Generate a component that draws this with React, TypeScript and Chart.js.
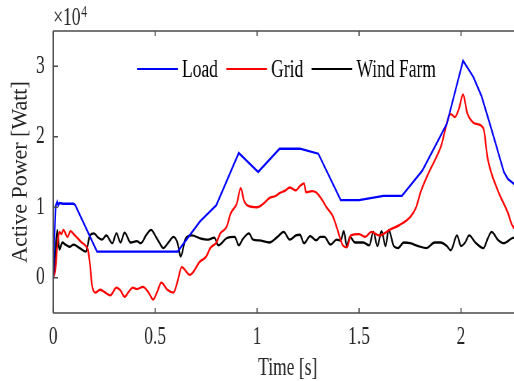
import React, { useEffect, useRef } from "react";
import { Chart, registerables } from "chart.js";

Chart.register(...registerables);

// ---------- data (time in s, power in W) ----------
const seriesLabels = ["Load", "Grid", "Wind Farm"];
const seriesColors = ["#0000ff", "#ff0000", "#000000"];
const xTitle = "Time [s]";
const yTitle = "Active Power [Watt]";

const loadT = [0, 0.005, 0.012, 0.02, 0.025, 0.03, 0.05, 0.1, 0.108, 0.215, 0.61, 0.72, 0.8, 0.91, 1.005, 1.11, 1.21, 1.3, 1.41, 1.5, 1.62, 1.71, 1.81, 1.93, 2.01, 2.06, 2.1, 2.15, 2.18, 2.21, 2.23, 2.26, 2.3];
const loadP = [0, 5000, 10200, 10800, 10300, 10600, 10500, 10500, 10300, 3700, 3700, 8000, 10300, 17700, 15000, 18300, 18300, 17600, 11000, 11000, 11600, 11600, 15200, 21800, 30800, 28500, 25800, 21000, 18000, 15000, 14000, 13300, 12800];

const gridT = [0, 0.01, 0.02, 0.03, 0.04, 0.05, 0.07, 0.085, 0.1, 0.12, 0.14, 0.16, 0.17, 0.18, 0.19, 0.206, 0.23, 0.25, 0.28, 0.31, 0.33, 0.35, 0.37, 0.39, 0.41, 0.44, 0.47, 0.49, 0.51, 0.53, 0.56, 0.59, 0.61, 0.63, 0.67, 0.72, 0.75, 0.77, 0.8, 0.82, 0.85, 0.87, 0.9, 0.92, 0.935, 0.95, 1.0, 1.03, 1.06, 1.09, 1.11, 1.14, 1.16, 1.19, 1.21, 1.23, 1.24, 1.27, 1.29, 1.32, 1.34, 1.37, 1.39, 1.42, 1.44, 1.46, 1.5, 1.53, 1.56, 1.6, 1.65, 1.7, 1.75, 1.78, 1.8, 1.84, 1.9, 1.95, 1.97, 1.99, 2.01, 2.03, 2.06, 2.08, 2.11, 2.13, 2.18, 2.23, 2.25, 2.3];
const gridP = [0, 1000, 4500, 6500, 6200, 6800, 5800, 6600, 6200, 5600, 5000, 4500, 4000, 2000, -1000, -2100, -1700, -2000, -2500, -1400, -1800, -2700, -2000, -1400, -1600, -1300, -2200, -3100, -2000, -700, -1700, -2100, -500, 1500, 400, 2300, 3000, 4200, 5000, 6300, 7200, 9100, 10500, 12700, 11000, 10300, 10000, 10500, 11300, 11600, 12000, 12400, 12800, 12400, 13000, 13400, 12100, 12300, 12100, 11000, 10000, 8800, 7200, 4600, 4300, 6000, 6200, 5800, 6500, 6000, 6800, 7500, 8600, 10000, 12000, 14800, 18500, 23200, 22800, 24000, 26000, 23400, 22000, 21800, 21200, 17000, 12400, 9200, 7500, 6000];

const windT = [0, 0.01, 0.02, 0.03, 0.045, 0.06, 0.08, 0.1, 0.13, 0.16, 0.18, 0.2, 0.22, 0.24, 0.26, 0.29, 0.31, 0.33, 0.35, 0.38, 0.41, 0.43, 0.455, 0.48, 0.5, 0.52, 0.54, 0.565, 0.59, 0.61, 0.625, 0.65, 0.68, 0.72, 0.76, 0.79, 0.81, 0.85, 0.89, 0.91, 0.93, 0.96, 0.98, 1.01, 1.06, 1.1, 1.13, 1.16, 1.19, 1.21, 1.23, 1.26, 1.29, 1.31, 1.33, 1.36, 1.39, 1.41, 1.425, 1.44, 1.455, 1.48, 1.52, 1.55, 1.57, 1.59, 1.61, 1.63, 1.645, 1.67, 1.69, 1.72, 1.75, 1.79, 1.83, 1.87, 1.9, 1.93, 1.95, 1.98, 2.0, 2.02, 2.04, 2.07, 2.11, 2.13, 2.15, 2.18, 2.21, 2.25, 2.3];
const windP = [0, 3000, 6800, 4000, 5000, 4700, 4400, 4700, 4200, 3700, 6000, 6300, 5700, 5400, 6000, 4900, 6300, 5000, 6400, 5000, 5200, 4900, 6000, 6800, 6000, 5000, 4200, 5000, 5800, 4900, 3000, 5600, 6000, 5600, 5400, 5700, 4600, 5600, 5800, 4600, 5500, 6300, 5400, 5300, 5000, 5800, 6500, 5400, 6000, 6100, 4900, 5900, 5300, 5800, 5800, 4700, 5400, 5300, 6600, 4500, 5800, 5000, 5000, 4600, 6500, 4500, 6600, 4500, 6800, 4500, 4200, 5000, 4900, 4500, 4200, 5000, 5000, 4500, 3900, 6000, 4500, 5000, 6000, 5000, 4200, 5500, 6500, 5400, 4900, 5600, 6000];

const xTicks = [0, 0.5, 1, 1.5, 2];
const yTicks = [0, 10000, 20000, 30000];
const X_MIN = 0;
const X_MAX = 2.3;
const Y_MIN = -5000;
const Y_MAX = 35000;

// ---------- layout ----------
const SX = 0.7; // horizontal compression of the reference figure
const W = 760;
const H = 381;
const FONT = '"Liberation Serif", "Times New Roman", serif';
const AXIS = "#4a4a4a";
const TEXT = "#262626";

const pts = (t: number[], p: number[]) => t.map((v, i) => ({ x: v, y: p[i] }));

const framePlugin = {
  id: "frame",
  afterDatasetsDraw(chart: any) {
    const { ctx, chartArea: a, scales } = chart;
    const xs = scales.x;
    const ys = scales.y;
    ctx.save();
    ctx.strokeStyle = AXIS;
    ctx.lineWidth = 1.3;
    ctx.beginPath();
    ctx.moveTo(a.left, a.top);
    ctx.lineTo(a.right, a.top);
    ctx.moveTo(a.left, a.bottom);
    ctx.lineTo(a.right, a.bottom);
    ctx.stroke();
    ctx.lineWidth = 1.9;
    ctx.beginPath();
    ctx.moveTo(a.left, a.top);
    ctx.lineTo(a.left, a.bottom);
    ctx.moveTo(a.right, a.top);
    ctx.lineTo(a.right, a.bottom);
    ctx.stroke();
    ctx.lineWidth = 1.7;
    ctx.beginPath();
    for (const v of xTicks) {
      const px = xs.getPixelForValue(v);
      ctx.moveTo(px, a.bottom);
      ctx.lineTo(px, a.bottom - 5);
      ctx.moveTo(px, a.top);
      ctx.lineTo(px, a.top + 5);
    }
    ctx.stroke();
    ctx.lineWidth = 1.3;
    ctx.beginPath();
    for (const v of yTicks) {
      const py = ys.getPixelForValue(v);
      ctx.moveTo(a.left, py);
      ctx.lineTo(a.left + 7, py);
      ctx.moveTo(a.right, py);
      ctx.lineTo(a.right - 7, py);
    }
    ctx.stroke();

    // exponent label
    ctx.fillStyle = TEXT;
    ctx.textBaseline = "alphabetic";
    ctx.textAlign = "left";
    ctx.font = `25px ${FONT}`;
    ctx.fillText("\u00d710", a.left, 25);
    const w10 = ctx.measureText("\u00d710").width;
    ctx.font = `17px ${FONT}`;
    ctx.fillText("4", a.left + w10 + 1, 17);

    // y axis title (rotated, uncompressed thickness)
    ctx.save();
    ctx.translate(30, (a.top + a.bottom) / 2);
    ctx.rotate(-Math.PI / 2);
    ctx.scale(1, 1 / SX);
    ctx.font = `22px ${FONT}`;
    ctx.textAlign = "center";
    ctx.textBaseline = "middle";
    ctx.fillStyle = TEXT;
    ctx.fillText(yTitle, 0, 0);
    ctx.restore();

    // legend
    ctx.font = `25px ${FONT}`;
    ctx.textBaseline = "middle";
    ctx.textAlign = "left";
    let lx = 196;
    const ly = 69;
    chart.data.datasets.forEach((ds: any) => {
      ctx.strokeStyle = ds.borderColor;
      ctx.lineWidth = 2.2;
      ctx.beginPath();
      ctx.moveTo(lx, ly);
      ctx.lineTo(lx + 58, ly);
      ctx.stroke();
      ctx.fillStyle = "#000";
      ctx.fillText(ds.label, lx + 64, ly + 1);
      lx += 64 + ctx.measureText(ds.label).width + 12;
    });
    ctx.restore();
  },
};

export default function App() {
  const ref = useRef<HTMLCanvasElement | null>(null);

  useEffect(() => {
    if (!ref.current) return;
    const series = [pts(loadT, loadP), pts(gridT, gridP), pts(windT, windP)];
    const modes = ["default", "monotone", "monotone"];
    const tensions = [0, 0.4, 0.4];
    const chart = new Chart(ref.current, {
      type: "line",
      data: {
        datasets: series.map((d, i) => ({
          label: seriesLabels[i],
          data: d,
          borderColor: seriesColors[i],
          backgroundColor: seriesColors[i],
          borderWidth: 2.3,
          pointRadius: 0,
          tension: tensions[i],
          cubicInterpolationMode: modes[i] as any,
          fill: false,
        })),
      },
      options: {
        animation: false,
        responsive: false,
        devicePixelRatio: 1,
        layout: { padding: { left: 0, top: 31, right: W - 746, bottom: 0 } },
        plugins: {
          legend: { display: false },
          tooltip: { enabled: false },
        },
        scales: {
          x: {
            type: "linear",
            min: X_MIN,
            max: X_MAX,
            grid: { display: false, drawTicks: false },
            border: { display: false },
            afterBuildTicks: (s: any) => {
              s.ticks = xTicks.map((v) => ({ value: v }));
            },
            afterFit: (s: any) => {
              s.height = 68;
            },
            ticks: {
              autoSkip: false,
              maxRotation: 0,
              padding: 9,
              color: TEXT,
              font: { family: FONT, size: 25 },
              callback: (v: any) => String(v),
            },
            title: {
              display: true,
              text: xTitle,
              color: TEXT,
              font: { family: FONT, size: 25 },
              padding: { top: 0, bottom: -2 },
            },
          },
          y: {
            type: "linear",
            min: Y_MIN,
            max: Y_MAX,
            grid: { display: false, drawTicks: false },
            border: { display: false },
            afterBuildTicks: (s: any) => {
              s.ticks = yTicks.map((v) => ({ value: v }));
            },
            afterFit: (s: any) => {
              s.width = 76;
            },
            ticks: {
              autoSkip: false,
              padding: 12,
              color: TEXT,
              font: { family: FONT, size: 25 },
              callback: (v: any) => String(Number(v) / 10000),
            },
          },
        },
      },
      plugins: [framePlugin],
    });
    return () => chart.destroy();
  }, []);

  return (
    <div
      style={{
        position: "fixed",
        left: 0,
        top: 0,
        width: 514,
        height: 381,
        overflow: "hidden",
        background: "#fff",
      }}
    >
      <div
        style={{
          width: W,
          height: H,
          transform: `scaleX(${SX})`,
          transformOrigin: "0 0",
        }}
      >
        <canvas ref={ref} width={W} height={H} style={{ display: "block" }} />
      </div>
    </div>
  );
}
